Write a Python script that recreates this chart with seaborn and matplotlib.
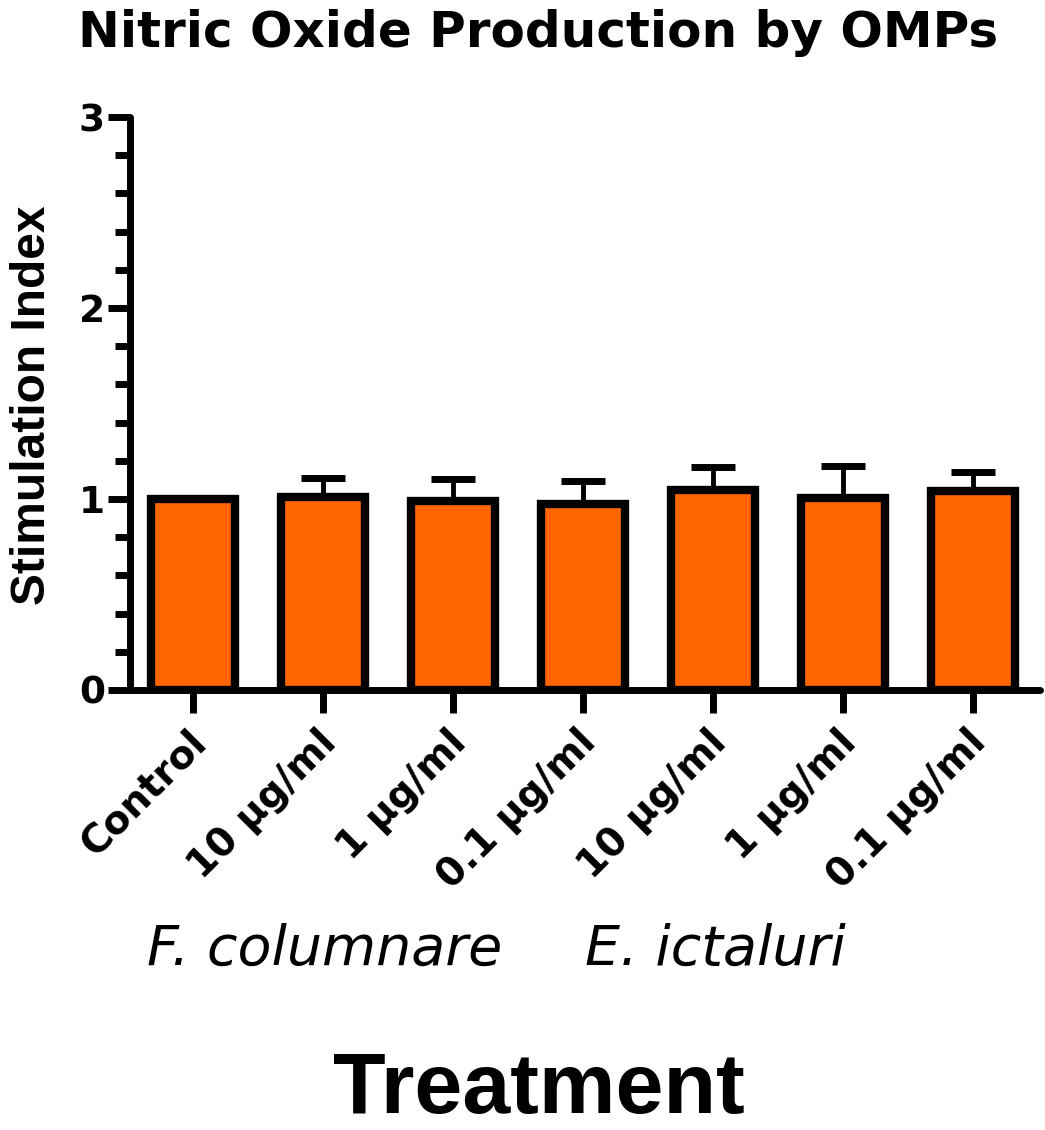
import matplotlib
matplotlib.use("Agg")
import matplotlib.pyplot as plt
import matplotlib.transforms as mtransforms
from matplotlib.ticker import MultipleLocator
import seaborn as sns
import pandas as pd

# --- data ---
bar_keys = ["ctrl", "fc_10", "fc_1", "fc_0.1", "ei_10", "ei_1", "ei_0.1"]
tick_labels = ["Control", "10 \u00b5g/ml", "1 \u00b5g/ml", "0.1 \u00b5g/ml",
               "10 \u00b5g/ml", "1 \u00b5g/ml", "0.1 \u00b5g/ml"]
stim_index = [1.00, 1.01, 0.99, 0.975, 1.045, 1.005, 1.04]
sem_upper = [0.0, 0.10, 0.115, 0.12, 0.12, 0.17, 0.10]
group_names = ["F. columnare", "E. ictaluri"]

BAR_COLOR = "#FF6600"

df = pd.DataFrame({"Treatment": bar_keys, "Stimulation Index": stim_index})

sns.set_style("ticks")
plt.rcParams["font.family"] = ["DejaVu Sans"]
plt.rcParams.update({
    "text.color": "black",
    "axes.edgecolor": "black",
    "axes.labelcolor": "black",
    "xtick.color": "black",
    "ytick.color": "black",
})

fig = plt.figure(figsize=(10.45, 11.3), dpi=100)
ax = fig.add_axes([130 / 1045, 1 - 690 / 1130, 910 / 1045, (690 - 117) / 1130])

sns.barplot(data=df, x="Treatment", y="Stimulation Index", order=bar_keys,
            color=BAR_COLOR, saturation=1, edgecolor="black", linewidth=6,
            width=0.65, errorbar=None, ax=ax)

xs = list(range(len(bar_keys)))
ax.errorbar(xs, stim_index, yerr=[[0] * len(sem_upper), sem_upper], fmt="none",
            ecolor="black", elinewidth=3.5, capsize=16, capthick=5, zorder=0.5)

ax.set_xlim(-0.485, 6.515)
ax.set_ylim(0, 3)
ax.yaxis.set_major_locator(MultipleLocator(1))
ax.yaxis.set_minor_locator(MultipleLocator(0.2))

for side in ["top", "right"]:
    ax.spines[side].set_visible(False)
for side in ["left", "bottom"]:
    ax.spines[side].set_linewidth(5)
    ax.spines[side].set_capstyle("round")

ax.tick_params(axis="y", which="major", length=16, width=5, pad=2, labelsize=27)
ax.tick_params(axis="y", which="minor", length=11, width=5)
ax.tick_params(axis="x", which="major", length=16.5, width=5, pad=17)
for lbl in ax.get_yticklabels():
    lbl.set_fontweight("bold")

ax.set_xticks(xs)
ax.set_xticklabels(tick_labels, rotation=45, ha="right", va="center",
                   rotation_mode="anchor", fontsize=28, fontweight="bold")
offset = mtransforms.ScaledTranslation(7 / 100, 0, fig.dpi_scale_trans)
for lbl in ax.get_xticklabels():
    lbl.set_transform(lbl.get_transform() + offset)

ax.set_xlabel("")
ax.set_ylabel("")

fig.text(538 / 1045, 1 - 47 / 1130, "Nitric Oxide Production by OMPs",
         ha="center", va="baseline", fontsize=36, fontweight="bold")
fig.text(33 / 1045, 1 - 405 / 1130, "Stimulation Index", rotation=90,
         ha="center", va="center", fontsize=34.5, fontweight="bold",
         family=["Liberation Sans", "DejaVu Sans"])
fig.text(325 / 1045, 1 - 965 / 1130, group_names[0], ha="center", va="baseline",
         fontsize=40, style="italic")
fig.text(715 / 1045, 1 - 965 / 1130, group_names[1], ha="center", va="baseline",
         fontsize=40, style="italic")
fig.text(539 / 1045, 1 - 1113 / 1130, "Treatment", ha="center", va="baseline",
         fontsize=62, fontweight="bold", family=["Liberation Sans", "DejaVu Sans"])

fig.savefig("out.png", dpi=100)
